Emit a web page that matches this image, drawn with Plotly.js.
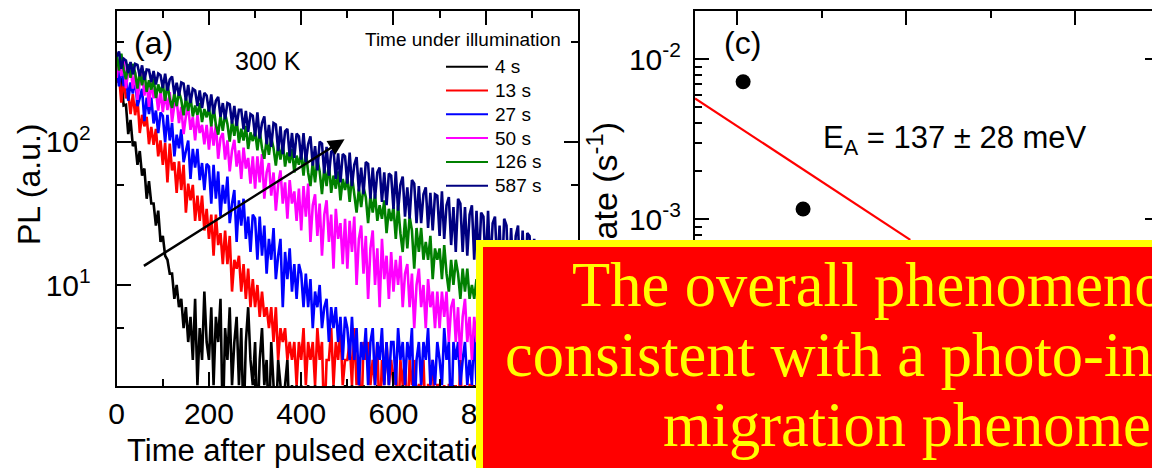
<!DOCTYPE html>
<html><head><meta charset="utf-8">
<script src="https://cdn.plot.ly/plotly-3.0.1.min.js"></script>
<style>html,body{margin:0;padding:0;overflow:hidden;background:#fff}#chart{width:1160px;height:468px}</style>
</head><body><div id="chart"></div>
<script>
// ---------- data: panel (a) PL decays (sampled every 5 ns from 0 ns) ----------
const seriesNames = ['4 s', '13 s', '27 s', '50 s', '126 s', '587 s'];
const seriesColors = ['#000000', '#FF0000', '#0000FF', '#FF00FF', '#008000', '#000080'];
const tStart = 0, tStep = 5;

const pl4s = [380,262,278,179,181,113,142,93,100,69,86,58,65,40,53,37,37,26,33,20,
22,16,15,12,12,8,10,7,8,5,7,4,6,3,8,2,5,3,9,4,
3,7,2,6,4,8,1,5,3,7,2,4,6,2,5,1,4,7,3,2,
4,1,3,5,2,3,1,4,2,1,3,2,1,2,3,1,2,1,2,1,
2,1,1,2,1,1,2,1,1,1,2,1,1,1,2,1,1,1,1,2,
1,1,2,1,1,1,1,2,1,1,1,1,1,2,1,1,1,1,1,1,
1,1,1,1,2,1,1,1,1,1,1,2,1,1,1,1,1,1,1,1,
1,1,1,1,1,1,2,1,1,1,1,1,1,1,1,2,1,1,1,1,
1,1,1,2,1,1,1,1,1,1,1,1,1,1,1,1,1,2,1,1,
1,1,1,1,1,1,1,1,1,2,1,1,1,1,1,1,1,1,1,1];

const pl13s = [258,293,187,279,201,221,156,215,153,202,115,154,128,149,96,127,95,123,79,102,
69,98,52,97,63,72,44,73,46,69,32,51,39,50,28,42,28,42,24,34,
21,31,16,31,19,23,14,24,14,22,9,15,13,16,9,14,8,13,7,11,
7,10,6,9,6,7,5,7,4,7,3,5,4,5,3,4,3,4,2,4,
3,5,2,4,3,4,2,5,3,4,1,3,3,5,2,4,3,5,2,3,
3,4,2,5,2,3,1,4,3,4,2,3,2,4,1,3,2,4,2,3,
2,3,1,3,2,3,1,3,2,3,1,2,2,3,1,2,2,3,1,2,
2,1,2,1,2,2,1,2,1,3,1,2,1,2,2,1,2,1,2,1,
1,2,1,2,1,1,2,1,2,1,1,2,1,1,2,1,2,1,1,2,
1,1,2,1,1,2,1,1,2,1,1,1,2,1,1,2,1,1,1,1];

const pl27s = [348,243,348,244,309,193,259,217,279,177,202,234,139,203,156,203,134,165,115,160,
151,99,154,102,135,79,112,90,122,72,86,102,55,89,66,89,54,71,46,70,
67,37,69,40,62,30,50,37,57,27,37,46,20,39,26,40,21,30,17,31,
29,15,30,16,26,12,21,15,25,11,16,21,7,17,11,18,9,14,8,14,
12,7,12,7,11,5,9,7,10,5,7,8,4,7,5,7,4,6,3,6,
5,3,6,3,5,2,4,3,5,2,4,5,2,4,3,5,2,4,2,4,
4,2,5,3,4,2,4,3,5,1,3,4,2,4,3,5,2,3,2,4,
3,2,5,3,4,1,4,3,4,2,3,4,2,3,2,5,2,3,1,4,
3,2,4,2,4,1,3,2,4,2,3,4,1,3,2,4,2,3,2,3,
3,1,4,2,3,2,3,2,4,1,3,3,2,3,2,4,1,3,2,3];

const pl50s = [279,380,287,385,236,312,336,235,303,196,261,302,210,259,175,267,201,227,165,228,
161,219,166,222,137,180,194,135,175,113,151,175,121,149,102,154,115,131,96,131,
88,131,94,133,76,106,115,75,102,62,87,103,67,87,55,91,65,77,51,79,
47,79,52,82,40,61,71,42,61,33,50,63,37,52,29,54,37,45,28,47,
24,49,30,51,20,36,43,22,37,16,31,39,20,31,13,34,21,27,14,29,
13,28,17,30,10,21,26,12,22,8,18,24,10,18,7,21,11,16,8,17,
9,15,10,16,7,12,14,7,12,5,10,13,7,10,5,11,7,9,5,9,
5,9,6,9,4,7,8,4,7,3,6,8,4,6,3,6,4,5,3,5,
3,5,3,5,2,4,5,2,4,1,3,4,2,4,2,4,2,3,1,3,
2,4,2,3,1,3,4,2,3,1,3,3,2,3,1,3,2,3,1,2];

const pl126s = [409,314,411,319,273,348,279,349,303,235,307,248,309,223,268,231,276,202,251,219,
251,193,255,198,172,219,177,223,195,153,203,164,205,150,179,154,186,137,169,148,
174,128,176,131,112,152,119,157,133,100,139,110,143,98,123,102,129,89,116,101,
118,87,120,90,76,104,81,107,90,68,95,75,99,67,84,71,89,61,80,69,
83,58,86,61,49,72,52,76,62,43,66,49,71,44,58,47,62,39,55,46,
57,38,58,41,32,47,35,48,41,27,42,32,43,28,36,29,39,23,34,28,
35,21,36,23,17,29,18,30,24,13,25,17,25,15,20,15,22,11,18,15,
18,11,19,12,9,15,10,15,12,8,13,9,13,8,10,8,11,6,9,8,
9,6,10,7,5,8,6,9,6,4,7,5,7,4,6,5,6,4,5,4,
5,4,6,4,3,5,3,5,4,2,4,3,4,2,4,3,4,2,3,3];

const pl587s = [393,426,323,379,369,302,360,295,349,343,286,341,270,319,317,261,311,251,299,291,
237,298,227,271,285,215,258,209,259,254,194,249,186,234,228,177,228,172,219,210,
162,214,156,193,205,149,186,143,186,182,134,178,129,167,167,122,164,117,156,152,
109,160,105,135,150,96,131,92,135,132,86,128,82,118,123,79,115,77,114,109,
75,115,72,96,109,68,93,63,100,97,60,92,58,85,88,55,83,52,82,79,
51,84,49,69,78,45,66,43,72,70,40,66,40,61,66,38,61,36,60,58,
34,62,33,50,57,30,48,29,54,51,27,49,27,43,48,25,44,24,43,42,
22,45,21,36,41,19,35,17,40,37,17,35,16,31,36,15,33,14,32,30,
13,33,13,27,30,13,26,11,29,26,10,25,11,22,26,10,24,9,23,22,
12,21,12,18,20,11,17,11,19,17,10,16,10,15,16,9,15,9,14,14];

// ---------- data: panel (c) rates ----------
const rateX = [3.407, 3.478];
const rateY = [0.00724, 0.00116];
const fitX = [3.35, 3.605];
const fitY = [0.0057, 0.000743];

// tick labels
const aTickVals = [10, 100];
const aTickText = ['10<sup>1</sup>', '10<sup>2</sup>'];
const cTickVals = [0.0001, 0.001, 0.01];
const cTickText = ['10<sup>-4</sup>', '10<sup>-3</sup>', '10<sup>-2</sup>'];

// ---------- layout helpers ----------
const W = 1160, H = 468;
const X = v => v / W, Y = v => 1 - v / H;
const SANS = 'Liberation Sans, Arial, sans-serif';
const SERIF = 'Liberation Serif, Times New Roman, serif';

const plSeries = [pl4s, pl13s, pl27s, pl50s, pl126s, pl587s];
const traces = plSeries.map((y, i) => ({
  type: 'scatter', mode: 'lines', x0: tStart, dx: tStep, y: y,
  xaxis: 'x', yaxis: 'y', name: seriesNames[i],
  line: {color: seriesColors[i], width: 2.6}
}));
traces.push({type: 'scatter', mode: 'lines', x: fitX, y: fitY, xaxis: 'x2', yaxis: 'y2',
  line: {color: '#FF0000', width: 2.2}, name: 'fit'});
traces.push({type: 'scatter', mode: 'markers', x: rateX, y: rateY, xaxis: 'x2', yaxis: 'y2',
  marker: {color: '#000', size: 15}, name: 'rate'});

const axBase = {showline: true, linewidth: 2, linecolor: '#000', mirror: 'ticks', ticks: 'inside',
  ticklen: 14, tickwidth: 2, tickcolor: '#000', showgrid: false, zeroline: false,
  tickfont: {family: SANS, size: 30, color: '#000'}};

function minorVals(decades) {
  const out = [];
  decades.forEach(d => { [2,3,4,5,6,7,8,9].forEach(m => out.push(m * d)); });
  return out;
}

const layout = {
  width: W, height: H, margin: {l: 0, r: 0, t: 0, b: 0},
  paper_bgcolor: '#fff', plot_bgcolor: '#fff', showlegend: false,
  font: {family: SANS, color: '#000'},
  xaxis: Object.assign({}, axBase, {domain: [X(116.7), X(578)], range: [0, 1000], tick0: 0, dtick: 200,
    ticklabelstandoff: 0,
    minor: {dtick: 100, ticks: 'inside', ticklen: 7, tickwidth: 2, tickcolor: '#000', showgrid: false}}),
  yaxis: Object.assign({}, axBase, {domain: [Y(386), Y(11)], type: 'log', range: [0.2952, 2.912],
    tickmode: 'array', tickvals: aTickVals, ticktext: aTickText, ticklabelstandoff: 18,
    minor: {tickmode: 'array', tickvals: [5, 50, 500], ticks: 'inside', ticklen: 7, tickwidth: 2, tickcolor: '#000', showgrid: false}}),
  xaxis2: Object.assign({}, axBase, {anchor: 'y2', domain: [X(695), X(1159.4)], range: [3.35, 3.9], tick0: 3.4, dtick: 0.2,
    showticklabels: false,
    minor: {dtick: 0.1, tick0: 3.4, ticks: 'inside', ticklen: 7, tickwidth: 2, tickcolor: '#000', showgrid: false}}),
  yaxis2: Object.assign({}, axBase, {anchor: 'x2', domain: [Y(386), Y(11)], type: 'log', range: [-4.042, -1.698],
    tickmode: 'array', tickvals: cTickVals, ticktext: cTickText, ticklabelstandoff: 6,
    minor: {tickmode: 'array', tickvals: minorVals([0.0001, 0.001]), ticks: 'inside', ticklen: 7, tickwidth: 2, tickcolor: '#000', showgrid: false}}),
  shapes: [],
  annotations: []
};

function txt(text, x, y, size, extra) {
  return Object.assign({xref: 'paper', yref: 'paper', x: X(x), y: Y(y), text: text, showarrow: false,
    font: {family: SANS, size: size, color: '#000'}, xanchor: 'center', yanchor: 'middle', borderpad: 0}, extra || {});
}

// axis titles and panel labels
layout.annotations.push(txt('PL (a.u.)', 29, 184, 32, {textangle: -90}));
layout.annotations.push(txt('Rate (s<sup>-1</sup>)', 602, 193, 34, {textangle: -90}));
layout.annotations.push(txt('Time after pulsed excitation (ns)', 347.3, 450, 31));
layout.annotations.push(txt('(a)', 153, 42.5, 32));
layout.annotations.push(txt('300 K', 268, 61.5, 25));
layout.annotations.push(txt('(c)', 742.5, 42.5, 32));
layout.annotations.push(txt('E<sub>A</sub> = 137 ± 28 meV', 822, 140, 31, {xanchor: 'left'}));

// legend (title + lines + labels)
layout.annotations.push(txt('Time under illumination', 562, 39.5, 19, {xanchor: 'right'}));
seriesNames.forEach((nm, i) => {
  const yy = 66.7 + i * 23.8;
  layout.shapes.push({type: 'line', xref: 'paper', yref: 'paper', x0: X(446), x1: X(488), y0: Y(yy), y1: Y(yy),
    line: {color: seriesColors[i], width: 2}});
  layout.annotations.push(txt(nm, 494, yy, 19, {xanchor: 'left'}));
});

// arrow in panel (a)
const arrowFrom = {t: 55.7, pl: 13.4}, arrowTo = {t: 494, pl: 104};
layout.annotations.push({xref: 'x', yref: 'y', axref: 'x', ayref: 'y', x: arrowTo.t, y: Math.log10(arrowTo.pl),
  ax: arrowFrom.t, ay: Math.log10(arrowFrom.pl), text: '', showarrow: true, arrowhead: 2, arrowsize: 1.3,
  arrowwidth: 2.5, arrowcolor: '#000', standoff: 0});

// overlay box with message
layout.annotations.push({xref: 'paper', yref: 'paper', x: X(476), y: Y(240), xanchor: 'left', yanchor: 'top',
  text: ' ', showarrow: false, width: 800, height: 300, bgcolor: '#FF0000', bordercolor: '#FFFF00', borderwidth: 7, borderpad: 0});
const boxLines = ['The overall phenomenon is', 'consistent with a photo-induced ion', 'migration phenomenon'];
const boxLeft = [571, 504, 662];
const boxMid = [285, 355, 425];
boxLines.forEach((s, i) => layout.annotations.push(txt(s, boxLeft[i], boxMid[i], 62.5,
  {xanchor: 'left', font: {family: SERIF, size: 62.5, color: '#FFFF00'}})));

Plotly.newPlot('chart', traces, layout, {staticPlot: true, displayModeBar: false});
</script></body></html>
